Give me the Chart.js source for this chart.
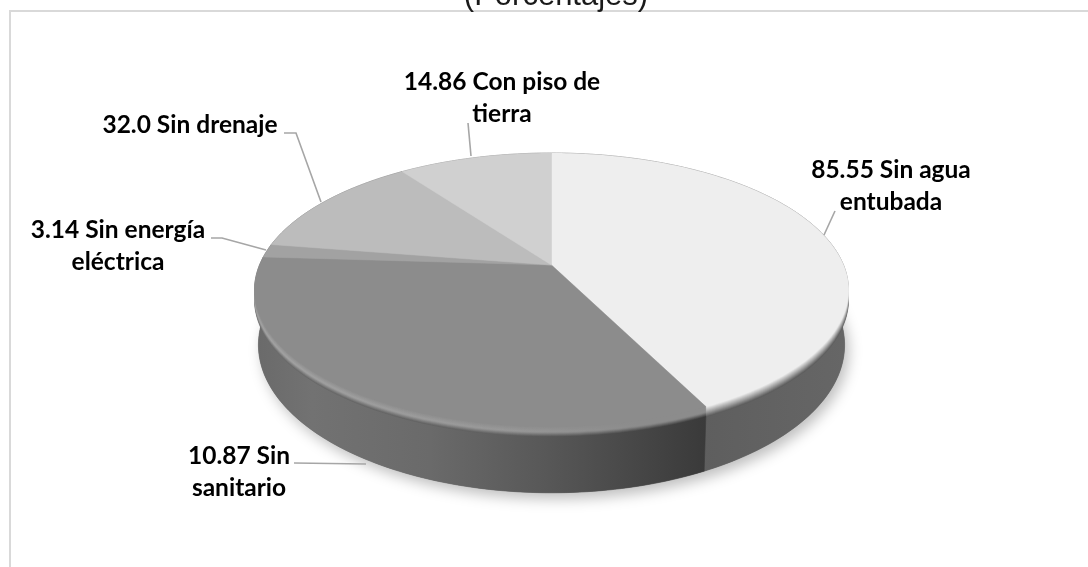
<!DOCTYPE html>
<html lang="es">
<head>
<meta charset="utf-8">
<title>Porcentajes</title>
<script src="https://cdn.jsdelivr.net/npm/chart.js@4/dist/chart.umd.min.js"></script>
<style>
  html, body { margin: 0; padding: 0; background: #fff; overflow: hidden; }
  #wrap { width: 1088px; height: 567px; }
</style>
</head>
<body>
<div id="wrap"><canvas id="pastel" width="1088" height="567"></canvas></div>
<script>
// En la figura original las rebanadas no corresponden a los numeros impresos, por eso van separados.
const categorias = ['Sin agua entubada', 'Sin sanitario', 'Sin energía eléctrica', 'Sin drenaje', 'Con piso de tierra'];
const tamanos = [85.55, 66.7, 3.14, 25.0, 20.0];
const valoresImpresos = ['85.55', '10.87', '3.14', '32.0', '14.86'];
const titulo = '(Porcentajes)';

const coloresCara = ['#eeeeee', '#8c8c8c', '#a2a2a2', '#bcbcbc', '#d0d0d0'];

// Geometria de la proyeccion del disco
const CX = 551.5, APEX_Y = 265, A = 292, B = 132.4, P = 0.182;
const BISEL = 10;
// La base es una elipse un poco mas angosta y mas alta que la cara
const BASE_DY = 53, BASE_ESC_X = 0.987, BASE_ESC_Y = 1.08;

function proyectar(u, v, dy, escX, escY) {
    const w = 1 + P * v;
    return [CX + escX * A * u / w, APEX_Y - escY * B * v / w + dy];
}

function trazarBorde(ctx, a0, a1, dy, escX, escY, mover) {
    const n = Math.max(2, Math.ceil(Math.abs(a1 - a0) / 0.02));
    for (let i = 0; i <= n; i++) {
        const a = a0 + (a1 - a0) * i / n;
        const p = proyectar(Math.cos(a), -Math.sin(a), dy, escX, escY);
        if (i === 0 && mover) ctx.moveTo(p[0], p[1]); else ctx.lineTo(p[0], p[1]);
    }
}

function gris(n) {
    const g = Math.round(n);
    return 'rgb(' + g + ',' + g + ',' + g + ')';
}

// Pared lateral: degradado horizontal por rebanada
const paredes = [
    [[700, 0x5e], [845, 0x66]],
    [[255, 0x6a], [312, 0x72], [430, 0x6a], [544, 0x58], [620, 0x4a], [705, 0x3a]],
    [[255, 0x6a], [275, 0x6a]],
    [[255, 0x70], [420, 0x70]],
    [[400, 0x80], [552, 0x80]]
];

// Brillo del bisel en la rebanada grande [x, gris del brillo]
const brilloBisel = [[255, 0xa4], [500, 0x9a], [640, 0x8c], [705, 0x8c]];

function degradado(ctx, stops) {
    const x0 = stops[0][0], x1 = stops[stops.length - 1][0];
    const g = ctx.createLinearGradient(x0, 0, x1, 0);
    stops.forEach(function(s) { g.addColorStop((s[0] - x0) / (x1 - x0), gris(s[1])); });
    return g;
}

function colorCapa(ctx, i, t) {
    const cara = parseInt(coloresCara[i].slice(1, 3), 16);
    if (i === 1) {
        // de la pared al brillo y del brillo a la cara
        const stops = brilloBisel.map(function(b) {
            const pared = valorPared(b[0]);
            const n = t < 0.45 ? pared + (b[1] - pared) * t / 0.45 : b[1] + (cara - b[1]) * (t - 0.45) / 0.55;
            return [b[0], n];
        });
        return degradado(ctx, stops);
    }
    const base = paredes[i][0][1];
    return gris(base + (cara - base) * t);
}

function valorPared(x) {
    const s = paredes[1];
    for (let i = 1; i < s.length; i++) {
        if (x <= s[i][0]) {
            return s[i - 1][1] + (s[i][1] - s[i - 1][1]) * (x - s[i - 1][0]) / (s[i][0] - s[i - 1][0]);
        }
    }
    return s[s.length - 1][1];
}

// Dibuja el pastel con los angulos que calculo la libreria
const pastel3d = {
    id: 'pastel3d',
    beforeDatasetDraw: function(chart) {
        const ctx = chart.ctx;
        const arcos = chart.getDatasetMeta(0).data;
        ctx.save();

        // sombra bajo la base
        ctx.save();
        ctx.shadowColor = 'rgba(0,0,0,0.26)';
        ctx.shadowBlur = 14;
        ctx.shadowOffsetY = 6;
        ctx.shadowOffsetX = 4;
        ctx.fillStyle = '#666';
        ctx.beginPath();
        trazarBorde(ctx, 0, Math.PI * 2, BASE_DY, BASE_ESC_X, BASE_ESC_Y, true);
        ctx.closePath();
        ctx.fill();
        ctx.restore();

        // paredes
        arcos.forEach(function(arco, i) {
            ctx.fillStyle = degradado(ctx, paredes[i]);
            ctx.strokeStyle = ctx.fillStyle;
            ctx.lineWidth = 0.6;
            ctx.beginPath();
            trazarBorde(ctx, arco.startAngle, arco.endAngle, 0, 1, 1, true);
            trazarBorde(ctx, arco.endAngle, arco.startAngle, BASE_DY, BASE_ESC_X, BASE_ESC_Y, false);
            ctx.closePath();
            ctx.fill();
            ctx.stroke();
        });

        // bisel y cara superior, por capas
        const capas = 10;
        for (let k = 0; k <= capas; k++) {
            const t = k / capas;
            const d = BISEL * (1 - t);
            arcos.forEach(function(arco, i) {
                const c = proyectar(0, 0, d, 1, 1);
                ctx.fillStyle = k === capas ? arco.options.backgroundColor : colorCapa(ctx, i, t);
                ctx.strokeStyle = ctx.fillStyle;
                ctx.lineWidth = 0.5;
                ctx.beginPath();
                ctx.moveTo(c[0], c[1]);
                trazarBorde(ctx, arco.startAngle, arco.endAngle, d, 1, 1, false);
                ctx.closePath();
                ctx.fill();
                ctx.stroke();
            });
        }
        ctx.restore();
        return false;
    }
};

// Marco, titulo cortado, etiquetas y lineas guia
const lineasGuia = [
    [[835, 211], [824, 235]],
    [[294, 463], [366, 464]],
    [[211, 238], [222, 238], [266, 250]],
    [[284, 133], [296, 133], [321, 202]],
    [[468, 123], [471, 156]]
];
const posEtiquetas = [
    { x: 891, y: 170 },
    { x: 239, y: 456 },
    { x: 118, y: 230 },
    { x: 190, y: 125 },
    { x: 502, y: 82 }
];
const cortes = [
    ['Sin agua', 'entubada'],
    ['Sin', 'sanitario'],
    ['Sin energía', 'eléctrica'],
    ['Sin drenaje'],
    ['Con piso de', 'tierra']
];

const decoracion = {
    id: 'decoracion',
    beforeDraw: function(chart) {
        const ctx = chart.ctx;
        ctx.save();
        ctx.fillStyle = '#fff';
        ctx.fillRect(0, 0, 1088, 567);
        ctx.strokeStyle = '#d9d9d9';
        ctx.lineWidth = 2;
        ctx.beginPath();
        ctx.moveTo(10, 567);
        ctx.lineTo(10, 11);
        ctx.lineTo(1088, 11);
        ctx.stroke();
        ctx.fillStyle = '#1a1a1a';
        ctx.font = '31px "Liberation Sans"';
        ctx.textAlign = 'center';
        ctx.textBaseline = 'alphabetic';
        ctx.fillText(titulo, 556, 5);
        ctx.restore();
    },
    afterDraw: function(chart) {
        const ctx = chart.ctx;
        ctx.save();
        ctx.strokeStyle = '#a6a6a6';
        ctx.lineWidth = 1.6;
        lineasGuia.forEach(function(linea) {
            ctx.beginPath();
            linea.forEach(function(p, i) {
                if (i === 0) ctx.moveTo(p[0], p[1]); else ctx.lineTo(p[0], p[1]);
            });
            ctx.stroke();
        });
        ctx.fillStyle = '#000';
        ctx.font = 'bold 24.5px Lato';
        ctx.textAlign = 'center';
        ctx.textBaseline = 'middle';
        cortes.forEach(function(lineas, i) {
            lineas.forEach(function(txt, j) {
                // la primera linea lleva el valor impreso delante
                const texto = j === 0 ? valoresImpresos[i] + ' ' + txt : txt;
                ctx.fillText(texto, posEtiquetas[i].x, posEtiquetas[i].y + j * 32.5);
            });
        });
        ctx.restore();
    }
};

new Chart(document.getElementById('pastel').getContext('2d'), {
    type: 'pie',
    data: {
        labels: categorias,
        datasets: [{
            data: tamanos,
            backgroundColor: coloresCara,
            borderWidth: 0
        }]
    },
    options: {
        responsive: false,
        animation: false,
        plugins: {
            legend: { display: false },
            tooltip: { enabled: false },
            title: { display: false }
        }
    },
    plugins: [decoracion, pastel3d]
});
</script>
</body>
</html>
